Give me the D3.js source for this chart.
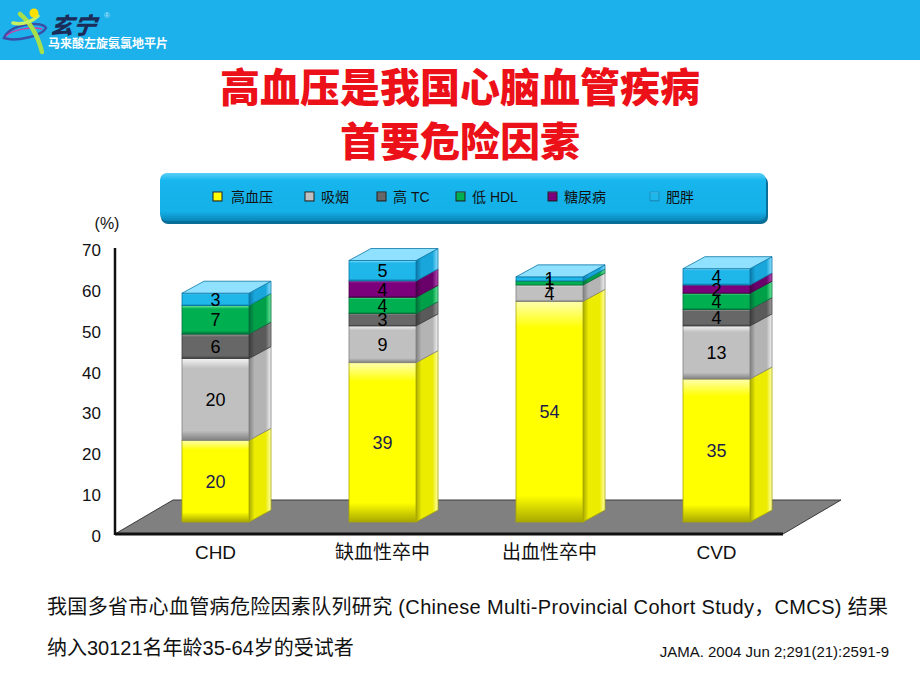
<!DOCTYPE html>
<html>
<head>
<meta charset="utf-8">
<script src="https://cdn.jsdelivr.net/npm/d3@7/dist/d3.min.js"></script>
<style>
  body { margin: 0; background: #fff; }
  svg { display: block; }
  text { font-family: "Liberation Sans", Arial, "Noto Sans CJK SC", sans-serif; }
  .cjk { font-family: "Liberation Sans", "Noto Sans CJK SC", sans-serif; }
</style>
</head>
<body>
<svg id="canvas" width="920" height="690"></svg>
<script>
// data
let categories = ["CHD", "缺血性卒中", "出血性卒中", "CVD"]
let seriesNames = ["高血压", "吸烟", "高 TC", "低 HDL", "糖尿病", "肥胖"]
let hypertension = [20, 39, 54, 35]
let smoking = [20, 9, 4, 13]
let highTC = [6, 3, 0, 4]
let lowHDL = [7, 4, 1, 4]
let diabetes = [0, 4, 0, 2]
let obesity = [3, 5, 1, 4]
let yTicks = [0, 10, 20, 30, 40, 50, 60, 70]

let seriesValues = [hypertension, smoking, highTC, lowHDL, diabetes, obesity]

// colours: base, light, dark, side
let palette = [
    { base: "#ffff00", light: "#ffffb0", dark: "#a8a800", side: "#ecec00", label: "#1c1c50" },
    { base: "#c0c0c0", light: "#f4f4f4", dark: "#808080", side: "#b4b4b4", label: "#000" },
    { base: "#676767", light: "#a0a0a0", dark: "#3c3c3c", side: "#5a5a5a", label: "#000" },
    { base: "#00b050", light: "#70e8a0", dark: "#00703a", side: "#00a048", label: "#000" },
    { base: "#7c007c", light: "#b850b8", dark: "#480048", side: "#6a006a", label: "#000" },
    { base: "#1fb6ea", light: "#90e0ff", dark: "#0a78a8", side: "#19a6da", label: "#000" }
]

let svg = d3.select("#canvas")

// ---------- header ----------
svg.append("rect").attr("x", 0).attr("y", 0).attr("width", 920).attr("height", 60).attr("fill", "#1cb1eb")

let logo = svg.append("g")
logo.append("path")
    .attr("d", "M4,38 C10,24 42,20 46,28 C42,36 16,42 4,38 Z")
    .attr("fill", "none").attr("stroke", "#3a4fa8").attr("stroke-width", 2.5)
logo.append("path")
    .attr("d", "M6,36 C12,30 32,26 42,29")
    .attr("fill", "none").attr("stroke", "#d83aa0").attr("stroke-width", 1.5)
logo.append("path")
    .attr("d", "M20,14 C32,24 38,36 42,52")
    .attr("fill", "none").attr("stroke", "#a8e04a").attr("stroke-width", 4.5).attr("stroke-linecap", "round")
logo.append("path")
    .attr("d", "M13,23 C22,25 30,23 38,16")
    .attr("fill", "none").attr("stroke", "#c8f060").attr("stroke-width", 3.5).attr("stroke-linecap", "round")
logo.append("circle").attr("cx", 34).attr("cy", 13).attr("r", 4.5).attr("fill", "#ffe000")

logo.append("text").attr("class", "cjk")
    .attr("x", 49).attr("y", 34)
    .attr("font-size", 23).attr("font-weight", 900).attr("font-style", "italic")
    .attr("fill", "#1c2c58").attr("transform", "skewX(-8) translate(5,0)")
    .text("玄宁")
logo.append("text").attr("x", 104).attr("y", 18).attr("font-size", 8).attr("fill", "#bfe8ff").text("®")
logo.append("text").attr("class", "cjk")
    .attr("x", 48).attr("y", 48)
    .attr("font-size", 12).attr("font-weight", 700).attr("fill", "#fff")
    .text("马来酸左旋氨氯地平片")

// ---------- title ----------
let titleLines = ["高血压是我国心脑血管疾病", "首要危险因素"]
svg.selectAll(".title").data(titleLines).enter().append("text")
    .attr("class", "title cjk")
    .attr("x", 460).attr("y", (d, i) => 102 + i * 54)
    .attr("text-anchor", "middle")
    .attr("font-size", 40).attr("font-weight", 900)
    .attr("fill", "#ec1018")
    .text(d => d)

// ---------- gradients ----------
let defs = svg.append("defs")
palette.forEach((c, i) => {
    let g = defs.append("linearGradient").attr("id", "front" + i).attr("x1", 0).attr("y1", 0).attr("x2", 0).attr("y2", 1)
    g.append("stop").attr("offset", "0%").attr("stop-color", c.light)
    g.append("stop").attr("offset", "12%").attr("stop-color", c.base)
    g.append("stop").attr("offset", "88%").attr("stop-color", c.base)
    g.append("stop").attr("offset", "100%").attr("stop-color", c.dark)
    let s = defs.append("linearGradient").attr("id", "side" + i).attr("x1", 0).attr("y1", 0).attr("x2", 1).attr("y2", 0)
    s.append("stop").attr("offset", "0%").attr("stop-color", c.dark)
    s.append("stop").attr("offset", "25%").attr("stop-color", c.side)
    s.append("stop").attr("offset", "75%").attr("stop-color", c.side)
    s.append("stop").attr("offset", "100%").attr("stop-color", c.light)
})
let lg = defs.append("linearGradient").attr("id", "legendFill").attr("x1", 0).attr("y1", 0).attr("x2", 0).attr("y2", 1)
lg.append("stop").attr("offset", "0%").attr("stop-color", "#5cd0f6")
lg.append("stop").attr("offset", "15%").attr("stop-color", "#18b6ee")
lg.append("stop").attr("offset", "80%").attr("stop-color", "#14b0e8")
lg.append("stop").attr("offset", "100%").attr("stop-color", "#0a86b8")

// ---------- legend ----------
svg.append("rect").attr("x", 161).attr("y", 176).attr("width", 607).attr("height", 48).attr("rx", 7)
    .attr("fill", "#0a6f98")
svg.append("rect").attr("x", 160).attr("y", 173).attr("width", 606).attr("height", 48).attr("rx", 7)
    .attr("fill", "url(#legendFill)")

let legendX = [213, 305, 377, 456, 548, 650]
let legendItems = svg.selectAll(".legend-item").data(seriesNames).enter().append("g")
    .attr("class", "legend-item")
    .attr("transform", (d, i) => `translate(${legendX[i]}, 192)`)
legendItems.append("rect")
    .attr("width", 9).attr("height", 9)
    .attr("fill", (d, i) => `url(#front${i})`)
    .attr("stroke", (d, i) => i === 5 ? "#1a90c0" : "#222").attr("stroke-width", 1)
legendItems.append("text").attr("class", "cjk")
    .attr("x", (d, i) => i === 0 ? 18 : 16).attr("y", 10)
    .attr("font-size", 14).attr("fill", "#111")
    .text(d => d)

// ---------- scales ----------
let yScale = d3.scaleLinear().domain([0, 70]).range([536, 250])
let xScale = d3.scalePoint().domain(categories).range([215.5, 716.5])
let barWidth = 67
let depthX = 22, depthY = -12
let barShift = -14        // bars stand back on the floor
let axisX = 115

// floor
let floorFrontY = 534
let floorRight = 783
let floorDx = 58, floorDy = -34
svg.append("polygon")
    .attr("points", [[axisX, floorFrontY], [floorRight, floorFrontY], [floorRight + floorDx, floorFrontY + floorDy], [axisX + floorDx, floorFrontY + floorDy]].map(p => p.join(",")).join(" "))
    .attr("fill", "#808080").attr("stroke", "#3a3a3a").attr("stroke-width", 1)
svg.append("line")
    .attr("x1", axisX).attr("x2", floorRight).attr("y1", floorFrontY).attr("y2", floorFrontY)
    .attr("stroke", "#111").attr("stroke-width", 3)

// y axis
svg.append("line")
    .attr("x1", axisX).attr("x2", axisX).attr("y1", yScale(70) - 2).attr("y2", floorFrontY + 1)
    .attr("stroke", "#111").attr("stroke-width", 2.5)

let yAxis = d3.axisLeft(yScale).tickValues(yTicks).tickSize(0).tickPadding(14)
svg.append("g").attr("transform", `translate(${axisX}, 0)`).call(yAxis)
    .call(g => g.select(".domain").remove())
    .selectAll("text").attr("font-size", 17).attr("fill", "#111")
    .attr("font-family", "'Liberation Sans', Arial, sans-serif")

svg.append("text").attr("x", 107).attr("y", 229).attr("text-anchor", "middle")
    .attr("font-size", 16).attr("fill", "#111").text("(%)")

// ---------- bars ----------
let segments = []
categories.forEach((cat, ci) => {
    let acc = 0
    seriesValues.forEach((vals, si) => {
        let v = vals[ci]
        if (v > 0) {
            segments.push({ cat: cat, series: si, value: v, y0: acc, y1: acc + v })
            acc += v
        }
    })
})

categories.forEach(cat => {
    let segs = segments.filter(s => s.cat === cat)
    let g = svg.append("g")
    let left = xScale(cat) - barWidth / 2
    segs.forEach((s, k) => {
        let yTop = yScale(s.y1) + barShift
        let yBot = yScale(s.y0) + barShift
        let c = palette[s.series]
        // side face
        g.append("polygon")
            .attr("points", [[left + barWidth, yBot], [left + barWidth + depthX, yBot + depthY], [left + barWidth + depthX, yTop + depthY], [left + barWidth, yTop]].map(p => p.join(",")).join(" "))
            .attr("fill", `url(#side${s.series})`).attr("stroke", c.dark).attr("stroke-width", 0.8)
        // front face
        g.append("rect")
            .attr("x", left).attr("y", yTop).attr("width", barWidth).attr("height", yBot - yTop)
            .attr("fill", `url(#front${s.series})`).attr("stroke", c.dark).attr("stroke-width", 0.8)
        // top face for the last segment
        if (k === segs.length - 1) {
            g.append("polygon")
                .attr("points", [[left, yTop], [left + barWidth, yTop], [left + barWidth + depthX, yTop + depthY], [left + depthX, yTop + depthY]].map(p => p.join(",")).join(" "))
                .attr("fill", c.light).attr("stroke", c.dark).attr("stroke-width", 0.8)
        }
    })
    segs.forEach(s => {
        let yMid = (yScale(s.y1) + yScale(s.y0)) / 2 + barShift
        g.append("text")
            .attr("x", left + barWidth / 2).attr("y", yMid + 6.5)
            .attr("text-anchor", "middle")
            .attr("font-size", 18).attr("fill", palette[s.series].label)
            .text(s.value)
    })
})

// x labels
svg.selectAll(".xlabel").data(categories).enter().append("text")
    .attr("class", "xlabel cjk")
    .attr("x", d => xScale(d)).attr("y", 559)
    .attr("text-anchor", "middle")
    .attr("font-size", 19).attr("fill", "#111")
    .text(d => d)

// ---------- footer ----------
svg.append("text").attr("class", "cjk")
    .attr("x", 47).attr("y", 614)
    .attr("font-size", 20).attr("fill", "#111")
    .attr("textLength", 841).attr("lengthAdjust", "spacing")
    .text("我国多省市心血管病危险因素队列研究 (Chinese Multi-Provincial Cohort Study，CMCS) 结果")
svg.append("text").attr("class", "cjk")
    .attr("x", 47).attr("y", 655)
    .attr("font-size", 20).attr("fill", "#111")
    .text("纳入30121名年龄35-64岁的受试者")
svg.append("text")
    .attr("x", 889).attr("y", 657).attr("text-anchor", "end")
    .attr("font-size", 15).attr("fill", "#111")
    .attr("font-family", "'Liberation Sans', Arial, sans-serif")
    .text("JAMA. 2004 Jun 2;291(21):2591-9")
</script>
</body>
</html>
